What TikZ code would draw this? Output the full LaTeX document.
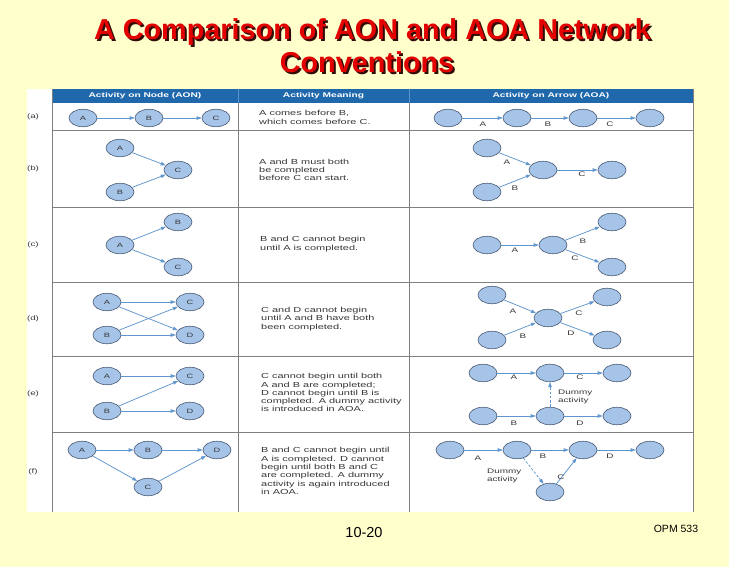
\documentclass[tikz,border=0pt]{standalone}
\usepackage{fontspec}
\setmainfont{Liberation Sans}
\newfontfamily\widefont[FakeStretch=1.5]{Liberation Sans}
\usetikzlibrary{shapes.geometric,arrows.meta}
\definecolor{bgyellow}{RGB}{255,255,204}
\definecolor{hdrblue}{RGB}{32,104,172}
\definecolor{hdrline}{RGB}{90,150,205}
\definecolor{nodefill}{RGB}{166,196,232}
\definecolor{nodeedge}{RGB}{70,88,115}
\definecolor{arrblue}{RGB}{95,150,205}
\definecolor{gridgray}{RGB}{128,128,128}
\definecolor{txtgray}{RGB}{55,55,55}
\definecolor{titlered}{RGB}{226,0,0}
\definecolor{shadowc}{RGB}{50,12,8}
\newcommand{\shadowtext}[1]{\makebox[0pt][l]{\hspace{2pt}\raisebox{-2pt}{\color{shadowc}#1}}\color{titlered}#1}
\begin{document}
\begin{tikzpicture}[x=1pt,y=-1pt,
  ev/.style={ellipse, draw=nodeedge, fill=nodefill, line width=0.6pt, minimum width=28pt, minimum height=17.5pt, inner sep=0pt, font=\widefont\fontsize{6.2}{7}\selectfont, text=txtgray},
  arr/.style={draw=arrblue, line width=0.75pt, -{Triangle[length=5pt,width=3.4pt]}},
  dummy/.style={arr, dash pattern=on 2.5pt off 1.8pt},
  lab/.style={font=\widefont\fontsize{6.6}{7.7}\selectfont, text=txtgray, inner sep=0pt},
  meaning/.style={anchor=west, align=left, inner sep=0pt, font=\widefont\fontsize{7.3}{8.3}\selectfont, text=txtgray},
  hdr/.style={font=\widefont\bfseries\fontsize{6.8}{8}\selectfont, text=white, inner sep=0pt},
  rowlab/.style={font=\widefont\fontsize{6.5}{8}\selectfont, text=txtgray, inner sep=0pt},
  grid/.style={draw=gridgray, line width=0.7pt},
  ttl/.style={font=\bfseries\fontsize{28.8}{33}\selectfont, inner sep=0pt, anchor=base}
]
\useasboundingbox (0,0) rectangle (729,567);
\fill[bgyellow] (0,0) rectangle (729,567);

% title
\node[ttl] (t1) at (372.5,40) {\shadowtext{A Comparison of AON and AOA Network}};
\node[ttl] (t2) at (367,73) {\shadowtext{Conventions}};

% table background and header
\fill[white] (27,89) rectangle (694,512);
\fill[hdrblue] (52,89) rectangle (693,103);
\draw[hdrline, line width=0.6pt] (238,89) -- (238,103) (409,89) -- (409,103);
\node[hdr] (h1) at (145,96) {Activity on Node (AON)};
\node[hdr] (h2) at (323.5,96) {Activity Meaning};
\node[hdr] (h3) at (551,96) {Activity on Arrow (AOA)};

% grid
\draw[grid] (52,89) -- (52,512);
\draw[grid] (238,103) -- (238,512);
\draw[grid] (409,103) -- (409,512);
\draw[grid] (693,89) -- (693,512);
\foreach \yy in {130,207,282,356,432} \draw[grid] (52,\yy) -- (693,\yy);

% row labels
\node[rowlab] (ra) at (33,117) {(a)};
\node[rowlab] (rb) at (33,169) {(b)};
\node[rowlab] (rc) at (33,245) {(c)};
\node[rowlab] (rd) at (33,319) {(d)};
\node[rowlab] (re) at (33,394) {(e)};
\node[rowlab] (rf) at (33,472) {(f)};

% ---------- AON ----------
% (a)
\node[ev] (aA) at (83,118) {A};
\node[ev] (aB) at (149,118) {B};
\node[ev] (aC) at (216,118) {C};
\draw[arr] (aA) -- (aB);
\draw[arr] (aB) -- (aC);
% (b)
\node[ev] (bA) at (120,148) {A};
\node[ev] (bC) at (178,170) {C};
\node[ev] (bB) at (120,192) {B};
\draw[arr] (bA) -- (bC);
\draw[arr] (bB) -- (bC);
% (c)
\node[ev] (cB) at (178,222) {B};
\node[ev] (cA) at (120,245) {A};
\node[ev] (cC) at (178,267) {C};
\draw[arr] (cA) -- (cB);
\draw[arr] (cA) -- (cC);
% (d)
\node[ev] (dA) at (107,302) {A};
\node[ev] (dC) at (190,302) {C};
\node[ev] (dB) at (107,335) {B};
\node[ev] (dD) at (190,335) {D};
\draw[arr] (dA) -- (dC);
\draw[arr] (dA) -- (dD);
\draw[arr] (dB) -- (dC);
\draw[arr] (dB) -- (dD);
% (e)
\node[ev] (eA) at (107,376) {A};
\node[ev] (eC) at (190,376) {C};
\node[ev] (eB) at (107,411) {B};
\node[ev] (eD) at (190,411) {D};
\draw[arr] (eA) -- (eC);
\draw[arr] (eB) -- (eC);
\draw[arr] (eB) -- (eD);
% (f)
\node[ev] (fA) at (82,450) {A};
\node[ev] (fB) at (148,450) {B};
\node[ev] (fD) at (217,450) {D};
\node[ev] (fC) at (148,487) {C};
\draw[arr] (fA) -- (fB);
\draw[arr] (fB) -- (fD);
\draw[arr] (fA) -- (fC);
\draw[arr] (fC) -- (fD);

% ---------- Meaning ----------
\node[meaning] (ma) at (259,117.5) {A comes before B,\\which comes before C.};
\node[meaning] (mb) at (259,170) {A and B must both\\be completed\\before C can start.};
\node[meaning] (mc) at (260,244) {B and C cannot begin\\until A is completed.};
\node[meaning] (md) at (261,319) {C and D cannot begin\\until A and B have both\\been completed.};
\node[meaning] (me) at (261,392.7) {C cannot begin until both\\A and B are completed;\\D cannot begin until B is\\completed. A dummy activity\\is introduced in AOA.};
\node[meaning] (mf) at (261,471) {B and C cannot begin until\\A is completed. D cannot\\begin until both B and C\\are completed. A dummy\\activity is again introduced\\in AOA.};

% ---------- AOA ----------
% (a)
\node[ev] (a1) at (448,118) {};
\node[ev] (a2) at (517,118) {};
\node[ev] (a3) at (583,118) {};
\node[ev] (a4) at (650,118) {};
\draw[arr] (a1) -- (a2);
\draw[arr] (a2) -- (a3);
\draw[arr] (a3) -- (a4);
\node[lab] (laA) at (483,124) {A};
\node[lab] (laB) at (548,124) {B};
\node[lab] (laC) at (610,124) {C};
% (b)
\node[ev] (b1) at (487,148) {};
\node[ev] (b2) at (487,192) {};
\node[ev] (b3) at (543,170) {};
\node[ev] (b4) at (612,170) {};
\draw[arr] (b1) -- (b3);
\draw[arr] (b2) -- (b3);
\draw[arr] (b3) -- (b4);
\node[lab] (lbA) at (507,162) {A};
\node[lab] (lbB) at (515,188) {B};
\node[lab] (lbC) at (582,174) {C};
% (c)
\node[ev] (c1) at (487,245) {};
\node[ev] (c2) at (553,245) {};
\node[ev] (c3) at (612,222) {};
\node[ev] (c4) at (612,267) {};
\draw[arr] (c1) -- (c2);
\draw[arr] (c2) -- (c3);
\draw[arr] (c2) -- (c4);
\node[lab] (lcA) at (515,250) {A};
\node[lab] (lcB) at (583,241) {B};
\node[lab] (lcC) at (575,258) {C};
% (d)
\node[ev] (d1) at (492,295) {};
\node[ev] (d2) at (492,340) {};
\node[ev] (d3) at (548,318) {};
\node[ev] (d4) at (607,297) {};
\node[ev] (d5) at (607,340) {};
\draw[arr] (d1) -- (d3);
\draw[arr] (d2) -- (d3);
\draw[arr] (d3) -- (d4);
\draw[arr] (d3) -- (d5);
\node[lab] (ldA) at (513,311) {A};
\node[lab] (ldB) at (523,336) {B};
\node[lab] (ldC) at (579,313) {C};
\node[lab] (ldD) at (571,333) {D};
% (e)
\node[ev] (e1) at (483,373) {};
\node[ev] (e2) at (550,373) {};
\node[ev] (e3) at (617,373) {};
\node[ev] (e4) at (483,416) {};
\node[ev] (e5) at (550,416) {};
\node[ev] (e6) at (617,416) {};
\draw[arr] (e1) -- (e2);
\draw[arr] (e2) -- (e3);
\draw[arr] (e4) -- (e5);
\draw[arr] (e5) -- (e6);
\draw[dummy] (e5) -- (e2);
\node[lab] (leA) at (514,377) {A};
\node[lab] (leC) at (580,377) {C};
\node[lab] (leB) at (514,423) {B};
\node[lab] (leD) at (580,423) {D};
\node[lab, align=left, anchor=west] (leDum) at (558,397) {Dummy\\activity};
% (f)
\node[ev] (f1) at (450,450) {};
\node[ev] (f2) at (517,450) {};
\node[ev] (f3) at (583,450) {};
\node[ev] (f4) at (650,450) {};
\node[ev] (f5) at (550,492) {};
\draw[arr] (f1) -- (f2);
\draw[arr] (f2) -- (f3);
\draw[arr] (f3) -- (f4);
\draw[dummy] (f2) -- (f5);
\draw[arr] (f5) -- (f3);
\node[lab] (lfA) at (478,458) {A};
\node[lab] (lfB) at (543,456) {B};
\node[lab] (lfD) at (610,456) {D};
\node[lab] (lfC) at (561,477) {C};
\node[lab, align=left, anchor=west] (lfDum) at (487,476) {Dummy\\activity};

% footer
\node[font=\fontsize{14.5}{16}\selectfont, inner sep=0pt] (pg) at (364,532.5) {10-20};
\node[font=\fontsize{10.5}{12}\selectfont, inner sep=0pt] (opm) at (676,528.5) {OPM 533};
\end{tikzpicture}
\end{document}
